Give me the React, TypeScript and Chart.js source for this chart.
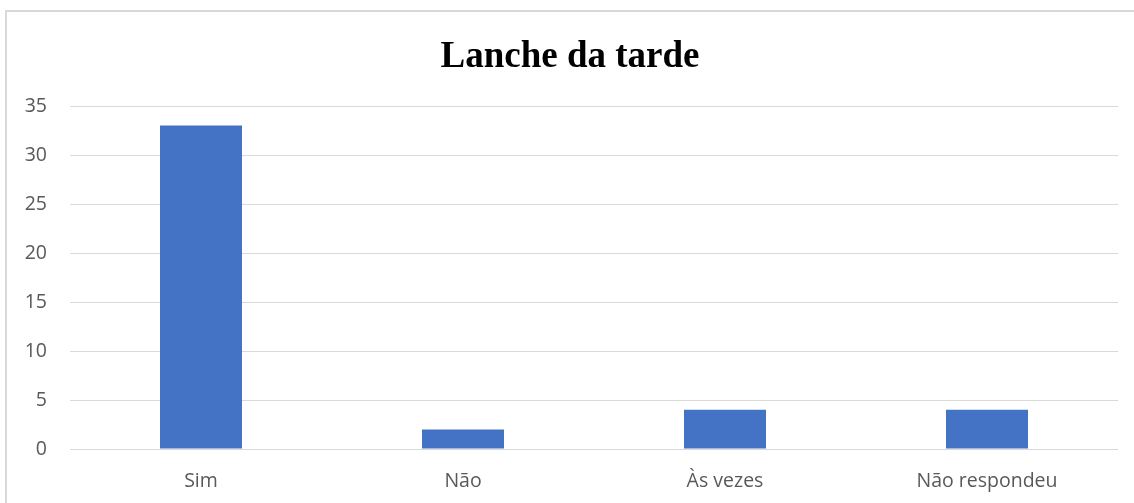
import React, { useEffect, useRef } from "react";
import { Chart, registerables } from "chart.js";

Chart.register(...registerables);

const categories = ["Sim", "Não", "Às vezes", "Não respondeu"];
const values = [33, 2, 4, 4];
const titleText = "Lanche da tarde";
const yMin = 0;
const yMax = 35;
const yStep = 5;

export default function App() {
  const ref = useRef<HTMLCanvasElement | null>(null);

  useEffect(() => {
    if (!ref.current) return;
    const tickFont = { family: "'Open Sans', sans-serif", size: 19.5 };
    const chart = new Chart(ref.current, {
      type: "bar",
      data: {
        labels: categories,
        datasets: [
          {
            data: values,
            backgroundColor: "#4472C4",
            borderWidth: 0,
            categoryPercentage: 1,
            barPercentage: 0.313,
          },
        ],
      },
      options: {
        animation: false,
        responsive: false,
        maintainAspectRatio: false,
        layout: { padding: { top: 0, left: 6, right: 0, bottom: 0 } },
        plugins: {
          legend: { display: false },
          tooltip: { enabled: false },
          title: {
            display: true,
            text: titleText,
            color: "#000000",
            font: { family: "'Liberation Serif', 'Times New Roman', serif", size: 37, weight: "bold" },
            padding: { top: 35, bottom: 26.6 },
          },
        },
        scales: {
          x: {
            grid: { display: false, drawTicks: false },
            border: { display: false },
            ticks: {
              color: "#595959",
              font: tickFont,
              padding: 21,
              maxRotation: 0,
              autoSkip: false,
            },
            afterFit: (s: any) => {
              s.height = 54;
            },
          },
          y: {
            min: yMin,
            max: yMax,
            grid: { color: "#d9d9d9", lineWidth: 1, drawTicks: false },
            border: { display: false },
            ticks: {
              stepSize: yStep,
              color: "#595959",
              font: tickFont,
              padding: 23,
            },
            afterFit: (s: any) => {
              s.width = 64;
            },
          },
          yRight: {
            position: "right",
            display: true,
            grid: { display: false, drawTicks: false },
            border: { display: false },
            ticks: { display: false },
            afterFit: (s: any) => {
              s.width = 16;
            },
          },
        },
      },
    });
    return () => chart.destroy();
  }, []);

  return (
    <div
      style={{
        position: "fixed",
        left: 0,
        top: 0,
        width: 1134,
        height: 503,
        background: "#ffffff",
        overflow: "hidden",
      }}
    >
      <div
        style={{
          position: "absolute",
          left: 5,
          top: 10,
          width: 1300,
          height: 700,
          borderLeft: "2px solid #d9d9d9",
          borderTop: "2px solid #d9d9d9",
        }}
      />
      <canvas
        ref={ref}
        width={1134}
        height={503}
        style={{ position: "absolute", left: 0, top: 0, width: 1134, height: 503 }}
      />
    </div>
  );
}
